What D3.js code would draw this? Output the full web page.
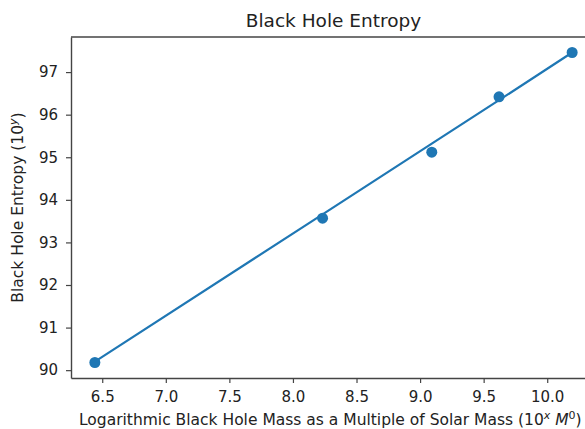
<!DOCTYPE html>
<html>
<head>
<meta charset="utf-8">
<script src="https://cdn.jsdelivr.net/npm/d3@7"></script>
<style>
  body { margin: 0; background: #fff; }
  svg { display: block; font-family: "DejaVu Sans", sans-serif; }
</style>
</head>
<body>
<div id="chart"></div>
<script>
// data
const massLog = [6.442, 8.233, 9.092, 9.621, 10.196];
const entropy = [90.18, 93.57, 95.12, 96.42, 97.46];
// fitted line values at the same masses
const fitEntropy = [90.20, 93.66, 95.32, 96.34, 97.46];
const xTicks = [6.5, 7.0, 7.5, 8.0, 8.5, 9.0, 9.5, 10.0];
const yTicks = [90, 91, 92, 93, 94, 95, 96, 97];

const width = 585, height = 429;
const margin = { top: 37, right: -11, bottom: 51, left: 71 };

const svg = d3.select("#chart")
  .append("svg")
  .attr("width", width)
  .attr("height", height);

// matplotlib style 5% padding
const xPad = (d3.max(massLog) - d3.min(massLog)) * 0.05;
const yPad = (d3.max(entropy) - d3.min(entropy)) * 0.05;

const x = d3.scaleLinear()
  .domain([d3.min(massLog) - xPad, d3.max(massLog) + xPad])
  .range([margin.left, width - margin.right]);
const y = d3.scaleLinear()
  .domain([d3.min(entropy) - yPad, d3.max(entropy) + yPad])
  .range([height - margin.bottom, margin.top]);

// axes
const xAxis = svg.append("g")
  .attr("transform", `translate(0,${height - margin.bottom})`)
  .call(d3.axisBottom(x).tickValues(xTicks).tickFormat(d3.format(".1f"))
        .tickSize(5).tickSizeOuter(0).tickPadding(8));
const yAxis = svg.append("g")
  .attr("transform", `translate(${margin.left},0)`)
  .call(d3.axisLeft(y).tickValues(yTicks).tickFormat(d3.format("d"))
        .tickSize(5).tickSizeOuter(0).tickPadding(8));

[xAxis, yAxis].forEach(g => {
  g.selectAll("text").attr("font-size", "15px").attr("fill", "#222").attr("font-family", "DejaVu Sans, sans-serif");
  g.selectAll("line").attr("stroke", "#444").attr("stroke-width", 1.2);
  g.select(".domain").attr("stroke", "#444").attr("stroke-width", 1.4);
});

// top spine
svg.append("line")
  .attr("x1", margin.left).attr("x2", width - margin.right)
  .attr("y1", margin.top).attr("y2", margin.top)
  .attr("stroke", "#444")
  .attr("stroke-width", 1.4);

// fit line
const line = d3.line()
  .x((d, i) => x(massLog[i]))
  .y(d => y(d));
svg.append("path")
  .datum(fitEntropy)
  .attr("d", line)
  .attr("fill", "none")
  .attr("stroke", "#1f77b4")
  .attr("stroke-width", 2.2);

// points
svg.selectAll(".pt")
  .data(entropy)
  .enter()
  .append("circle")
    .attr("class", "pt")
    .attr("cx", (d, i) => x(massLog[i]))
    .attr("cy", d => y(d))
    .attr("r", 5.5)
    .attr("fill", "#1f77b4");

// title
svg.append("text")
  .attr("x", (margin.left + width - margin.right) / 2)
  .attr("y", 27)
  .attr("text-anchor", "middle")
  .attr("font-size", "18.5px")
  .attr("fill", "#222")
  .text("Black Hole Entropy");

// y label
const yl = svg.append("text")
  .attr("transform", `translate(23,${(margin.top + height - margin.bottom) / 2}) rotate(-90)`)
  .attr("text-anchor", "middle")
  .attr("font-size", "15.5px")
  .attr("fill", "#222");
yl.append("tspan").text("Black Hole Entropy (10");
yl.append("tspan").attr("font-size", "11px").attr("font-style", "italic").attr("dy", "-6").text("y");
yl.append("tspan").attr("dy", "6").text(")");

// x label (starts where the reference does, kept inside the frame)
const xl = svg.append("text")
  .attr("x", 79)
  .attr("y", 425)
  .attr("text-anchor", "start")
  .attr("font-size", "15.5px")
  .attr("fill", "#222");
xl.append("tspan").text("Logarithmic Black Hole Mass as a Multiple of Solar Mass (10");
xl.append("tspan").attr("font-size", "11px").attr("font-style", "italic").attr("dy", "-6").text("x");
xl.append("tspan").attr("dy", "6").text(" ");
xl.append("tspan").attr("font-style", "italic").text("M");
xl.append("tspan").attr("font-size", "11px").attr("dy", "-6").text("0");
xl.append("tspan").attr("dy", "6").text(")");
</script>
</body>
</html>
